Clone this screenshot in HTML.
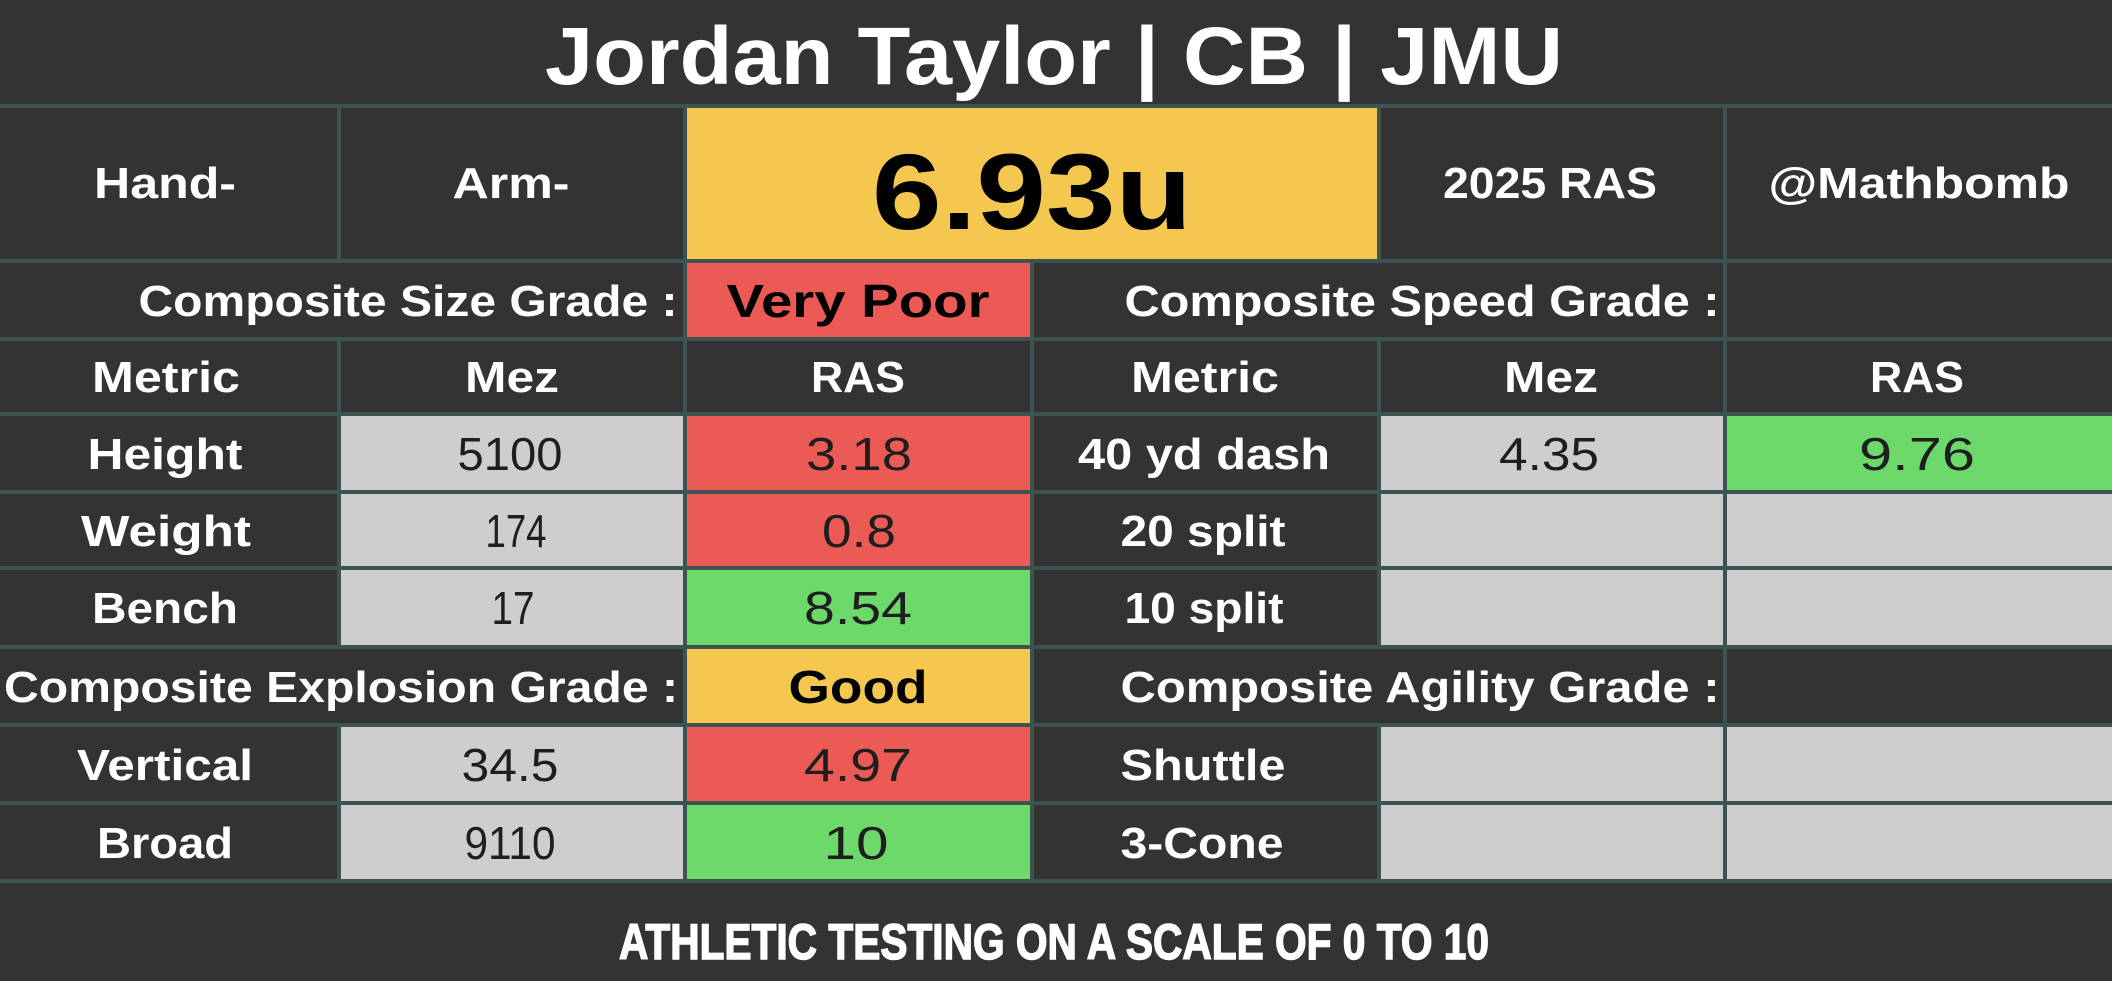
<!DOCTYPE html>
<html><head><meta charset="utf-8"><style>
html,body{margin:0;padding:0;background:#333333;}
svg{display:block}
text{font-family:"Liberation Sans",sans-serif;}
.l{font-weight:bold;fill:#fff;font-size:44px;text-anchor:middle}
.v{font-weight:normal;fill:#1e1e1e;font-size:46px;text-anchor:middle}
.b{font-weight:bold;fill:#000;font-size:46px;text-anchor:middle}
</style></head><body>
<svg width="2112" height="981" viewBox="0 0 2112 981" xmlns="http://www.w3.org/2000/svg">
<rect x="0" y="0" width="2112" height="981" fill="#333333"/>
<rect x="0" y="104" width="2112" height="779" fill="#3c5351"/>
<rect x="0" y="108" width="337" height="151" fill="#333"/>
<rect x="341" y="108" width="342" height="151" fill="#333"/>
<rect x="687" y="108" width="690" height="151" fill="#f4c84e"/>
<rect x="1381" y="108" width="342" height="151" fill="#333"/>
<rect x="1727" y="108" width="385" height="151" fill="#333"/>
<rect x="0" y="263" width="683" height="74" fill="#333"/>
<rect x="687" y="263" width="343" height="74" fill="#ec5a55"/>
<rect x="1034" y="263" width="689" height="74" fill="#333"/>
<rect x="1727" y="263" width="385" height="74" fill="#333"/>
<rect x="0" y="341" width="337" height="71" fill="#333"/>
<rect x="341" y="341" width="342" height="71" fill="#333"/>
<rect x="687" y="341" width="343" height="71" fill="#333"/>
<rect x="1034" y="341" width="343" height="71" fill="#333"/>
<rect x="1381" y="341" width="342" height="71" fill="#333"/>
<rect x="1727" y="341" width="385" height="71" fill="#333"/>
<rect x="0" y="416" width="337" height="74" fill="#333"/>
<rect x="341" y="416" width="342" height="74" fill="#cecece"/>
<rect x="687" y="416" width="343" height="74" fill="#ec5a55"/>
<rect x="1034" y="416" width="343" height="74" fill="#333"/>
<rect x="1381" y="416" width="342" height="74" fill="#cecece"/>
<rect x="1727" y="416" width="385" height="74" fill="#6dd96b"/>
<rect x="0" y="494" width="337" height="72" fill="#333"/>
<rect x="341" y="494" width="342" height="72" fill="#cecece"/>
<rect x="687" y="494" width="343" height="72" fill="#ec5a55"/>
<rect x="1034" y="494" width="343" height="72" fill="#333"/>
<rect x="1381" y="494" width="342" height="72" fill="#cecece"/>
<rect x="1727" y="494" width="385" height="72" fill="#cecece"/>
<rect x="0" y="570" width="337" height="75" fill="#333"/>
<rect x="341" y="570" width="342" height="75" fill="#cecece"/>
<rect x="687" y="570" width="343" height="75" fill="#6dd96b"/>
<rect x="1034" y="570" width="343" height="75" fill="#333"/>
<rect x="1381" y="570" width="342" height="75" fill="#cecece"/>
<rect x="1727" y="570" width="385" height="75" fill="#cecece"/>
<rect x="0" y="649" width="683" height="74" fill="#333"/>
<rect x="687" y="649" width="343" height="74" fill="#f4c84e"/>
<rect x="1034" y="649" width="689" height="74" fill="#333"/>
<rect x="1727" y="649" width="385" height="74" fill="#333"/>
<rect x="0" y="727" width="337" height="74" fill="#333"/>
<rect x="341" y="727" width="342" height="74" fill="#cecece"/>
<rect x="687" y="727" width="343" height="74" fill="#ec5a55"/>
<rect x="1034" y="727" width="343" height="74" fill="#333"/>
<rect x="1381" y="727" width="342" height="74" fill="#cecece"/>
<rect x="1727" y="727" width="385" height="74" fill="#cecece"/>
<rect x="0" y="805" width="337" height="74" fill="#333"/>
<rect x="341" y="805" width="342" height="74" fill="#cecece"/>
<rect x="687" y="805" width="343" height="74" fill="#6dd96b"/>
<rect x="1034" y="805" width="343" height="74" fill="#333"/>
<rect x="1381" y="805" width="342" height="74" fill="#cecece"/>
<rect x="1727" y="805" width="385" height="74" fill="#cecece"/>

<text x="1054" y="84" style="font-weight:bold;fill:#fff;font-size:82px;text-anchor:middle" textLength="1018" lengthAdjust="spacingAndGlyphs">Jordan Taylor | CB | JMU</text>
<text class="l" x="165" y="198" textLength="142" lengthAdjust="spacingAndGlyphs">Hand-</text>
<text class="l" x="511" y="198" textLength="117" lengthAdjust="spacingAndGlyphs">Arm-</text>
<text x="1032" y="229" style="font-weight:bold;fill:#000;font-size:108px;text-anchor:middle" textLength="320" lengthAdjust="spacingAndGlyphs">6.93u</text>
<text class="l" x="1550" y="198" textLength="214" lengthAdjust="spacingAndGlyphs">2025 RAS</text>
<text class="l" x="1919" y="198" textLength="301" lengthAdjust="spacingAndGlyphs">@Mathbomb</text>
<text class="l" x="408" y="316" textLength="539" lengthAdjust="spacingAndGlyphs">Composite Size Grade :</text>
<text class="b" x="858" y="317" textLength="263" lengthAdjust="spacingAndGlyphs">Very Poor</text>
<text class="l" x="1422" y="316" textLength="595" lengthAdjust="spacingAndGlyphs">Composite Speed Grade :</text>
<text class="l" x="166" y="392" textLength="148" lengthAdjust="spacingAndGlyphs">Metric</text>
<text class="l" x="512" y="392" textLength="94" lengthAdjust="spacingAndGlyphs">Mez</text>
<text class="l" x="858" y="392" textLength="94" lengthAdjust="spacingAndGlyphs">RAS</text>
<text class="l" x="1205" y="392" textLength="148" lengthAdjust="spacingAndGlyphs">Metric</text>
<text class="l" x="1551" y="392" textLength="94" lengthAdjust="spacingAndGlyphs">Mez</text>
<text class="l" x="1917" y="392" textLength="94" lengthAdjust="spacingAndGlyphs">RAS</text>
<text class="l" x="165" y="469" textLength="155" lengthAdjust="spacingAndGlyphs">Height</text>
<text class="v" x="510" y="470" textLength="105" lengthAdjust="spacingAndGlyphs">5100</text>
<text class="v" x="859" y="470" textLength="106" lengthAdjust="spacingAndGlyphs">3.18</text>
<text class="l" x="1204" y="469" textLength="252" lengthAdjust="spacingAndGlyphs">40 yd dash</text>
<text class="v" x="1549" y="470" textLength="100" lengthAdjust="spacingAndGlyphs">4.35</text>
<text class="v" x="1917" y="470" textLength="116" lengthAdjust="spacingAndGlyphs">9.76</text>
<text class="l" x="166" y="546" textLength="170" lengthAdjust="spacingAndGlyphs">Weight</text>
<text class="v" x="516" y="547" textLength="61" lengthAdjust="spacingAndGlyphs">174</text>
<text class="v" x="859" y="547" textLength="74" lengthAdjust="spacingAndGlyphs">0.8</text>
<text class="l" x="1203" y="546" textLength="165" lengthAdjust="spacingAndGlyphs">20 split</text>
<text class="l" x="165" y="623" textLength="146" lengthAdjust="spacingAndGlyphs">Bench</text>
<text class="v" x="513" y="624" textLength="43" lengthAdjust="spacingAndGlyphs">17</text>
<text class="v" x="858" y="624" textLength="108" lengthAdjust="spacingAndGlyphs">8.54</text>
<text class="l" x="1204" y="623" textLength="159" lengthAdjust="spacingAndGlyphs">10 split</text>
<text class="l" x="341" y="702" textLength="674" lengthAdjust="spacingAndGlyphs">Composite Explosion Grade :</text>
<text class="b" x="858" y="703" textLength="139" lengthAdjust="spacingAndGlyphs">Good</text>
<text class="l" x="1420" y="702" textLength="599" lengthAdjust="spacingAndGlyphs">Composite Agility Grade :</text>
<text class="l" x="165" y="780" textLength="176" lengthAdjust="spacingAndGlyphs">Vertical</text>
<text class="v" x="510" y="781" textLength="97" lengthAdjust="spacingAndGlyphs">34.5</text>
<text class="v" x="858" y="781" textLength="108" lengthAdjust="spacingAndGlyphs">4.97</text>
<text class="l" x="1203" y="780" textLength="165" lengthAdjust="spacingAndGlyphs">Shuttle</text>
<text class="l" x="165" y="858" textLength="136" lengthAdjust="spacingAndGlyphs">Broad</text>
<text class="v" x="510" y="859" textLength="91" lengthAdjust="spacingAndGlyphs">9110</text>
<text class="v" x="856" y="859" textLength="65" lengthAdjust="spacingAndGlyphs">10</text>
<text class="l" x="1202" y="858" textLength="163" lengthAdjust="spacingAndGlyphs">3-Cone</text>
<text x="1054" y="959" style="font-weight:bold;fill:#fff;font-size:50px;text-anchor:middle;stroke:#fff;stroke-width:1.5" textLength="870" lengthAdjust="spacingAndGlyphs">ATHLETIC TESTING ON A SCALE OF 0 TO 10</text>
</svg>
</body></html>
